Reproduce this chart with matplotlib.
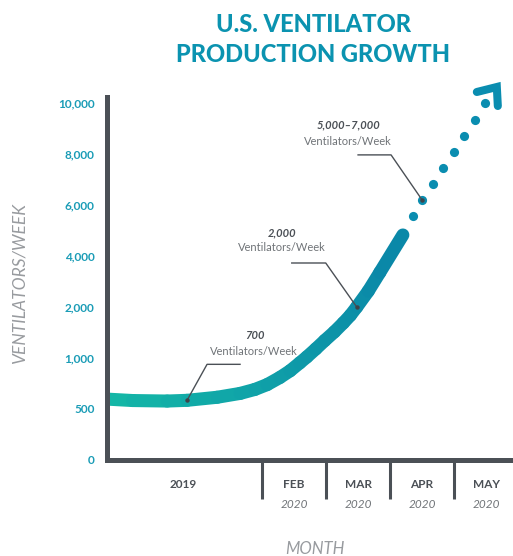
import numpy as np
import matplotlib
matplotlib.use("Agg")
import matplotlib.pyplot as plt
import matplotlib.transforms as mtransforms
from matplotlib.collections import LineCollection
from matplotlib.colors import LinearSegmentedColormap
from matplotlib.lines import Line2D

# ---------------- data ----------------
y_tick_values = [0, 500, 1000, 2000, 4000, 6000, 8000, 10000]
y_tick_labels = ["0", "500", "1,000", "2,000", "4,000", "6,000", "8,000", "10,000"]

month_boundaries = [0, 1, 2, 3]          # Feb 1, Mar 1, Apr 1, May 1 (2020)
period_labels = ["2019", "FEB", "MAR", "APR", "MAY"]
period_years = ["", "2020", "2020", "2020", "2020"]
period_centers = [-1.23, 0.5, 1.5, 2.5, 3.5]

actual_month = [-2.45, -2.02, -1.48, -1.17, -0.70, -0.34, -0.11, 0.08, 0.28, 0.44, 0.59,
                0.70, 0.84, 0.98, 1.13, 1.27, 1.38, 1.48, 1.66, 1.84, 2.20]
actual_value = [598, 583, 578, 585, 615, 653, 692, 739, 809, 875, 952,
                1020, 1178, 1343, 1512, 1688, 1837, 2000, 2624, 3353, 4824]

projected_month = [2.36, 2.50, 2.67, 2.83, 3.00, 3.16, 3.33, 3.48]
projected_value = [5570, 6200, 6820, 7450, 8080, 8710, 9330, 10000]

callout_month = [-1.17, 1.48, 2.50]
callout_value = [585, 2000, 6200]
callout_numbers = ["700", "2,000", "5,000\u20137,000"]
callout_unit = "Ventilators/Week"

# ---------------- style ----------------
W, H, DPI = 513, 556, 100
AXIS_COLOR = "#4b5056"
TICK_COLOR = "#1a9cb6"
TITLE_COLOR = "#0b93b0"
DOT_COLOR = "#0a8db0"
GRAY_TEXT = "#989b9f"
UNIT_TEXT = "#707478"
FONT = ["Lato", "DejaVu Sans"]

# equal spacing between the listed tick values
tv = np.array(y_tick_values, float)
ti = np.arange(len(tv), dtype=float)


def fwd(v):
    v = np.asarray(v, float)
    out = np.interp(v, tv, ti)
    out = np.where(v > tv[-1], ti[-1] + (v - tv[-1]) / (tv[-1] - tv[-2]), out)
    out = np.where(v < tv[0], (v - tv[0]) / (tv[1] - tv[0]), out)
    return out


def inv(i):
    i = np.asarray(i, float)
    out = np.interp(i, ti, tv)
    out = np.where(i > ti[-1], tv[-1] + (i - ti[-1]) * (tv[-1] - tv[-2]), out)
    out = np.where(i < ti[0], tv[0] + i * (tv[1] - tv[0]), out)
    return out


fig = plt.figure(figsize=(W / DPI, H / DPI), dpi=DPI)
ax = fig.add_axes([107 / W, (H - 460) / H, (W - 107) / W, (460 - 97) / H])
ax.set_yscale("function", functions=(fwd, inv))
ax.set_xlim(-2.42, 3.92)
ax.set_ylim(0, 10235)

for s in ("top", "right"):
    ax.spines[s].set_visible(False)
for s in ("left", "bottom"):
    ax.spines[s].set_color(AXIS_COLOR)
    ax.spines[s].set_linewidth(3.6)
    ax.spines[s].set_zorder(5)

ax.set_yticks(y_tick_values)
ax.set_yticklabels(y_tick_labels)
ax.yaxis.set_minor_locator(matplotlib.ticker.NullLocator())
ax.tick_params(axis="y", length=0, pad=9, labelcolor=TICK_COLOR)
for lab in ax.get_yticklabels():
    lab.set_fontfamily(FONT)
    lab.set_fontweight("bold")
    lab.set_fontsize(8.5)

ax.set_xticks(month_boundaries)
ax.tick_params(axis="x", length=28, width=2.2, color=AXIS_COLOR, labelbottom=False)

# period labels
for xc, lab, yr in zip(period_centers, period_labels, period_years):
    ax.annotate(lab, xy=(xc, 0), xycoords=("data", "axes fraction"),
                xytext=(0, -24), textcoords="offset pixels",
                ha="center", va="center", fontsize=8.5, fontweight="bold",
                family=FONT, color=AXIS_COLOR)
    if yr:
        ax.annotate(yr, xy=(xc, 0), xycoords=("data", "axes fraction"),
                    xytext=(0, -44), textcoords="offset pixels",
                    ha="center", va="center", fontsize=8.5, fontstyle="italic",
                    fontweight="normal", family=FONT, color=UNIT_TEXT)

# gradient actual line
cmap = LinearSegmentedColormap.from_list("grad", ["#14b8a6", "#10a3a8", "#0a86a8"])
pts = np.column_stack([actual_month, actual_value])
segs = np.stack([pts[:-1], pts[1:]], axis=1)
mids = (np.array(actual_month[:-1]) + np.array(actual_month[1:])) / 2
frac = (mids - actual_month[0]) / (actual_month[-1] - actual_month[0])
lc = LineCollection(segs, colors=cmap(frac), linewidths=9.4,
                    capstyle="round", joinstyle="round", zorder=3)
ax.add_collection(lc)

# projected dots
ax.plot(projected_month, projected_value, "o", color=DOT_COLOR, markersize=6.6,
        markeredgewidth=0, clip_on=False, zorder=3)

# chevron arrow head (offsets in pixels from the last projected dot)
anchor = mtransforms.ScaledTranslation(projected_month[-1], projected_value[-1], ax.transData)
chev = Line2D([-8, 12, 13], [11, 16, -3], color=DOT_COLOR, linewidth=5.8,
              solid_capstyle="round", solid_joinstyle="miter",
              transform=mtransforms.Affine2D() + anchor, clip_on=False, zorder=3)
ax.add_artist(chev)

# callouts: (elbow, end) offsets & text offsets in pixels
leader_elbow = [(20, 36), (-31, 44), (-31, 45)]
leader_end = [(53, 36), (-65, 44), (-64, 45)]
text_num = [(68, 65), (-75, 74), (-74, 75)]
text_unit = [(67, 49), (-75, 59), (-74, 58)]

for i in range(3):
    x, y = callout_month[i], callout_value[i]
    tr = mtransforms.Affine2D() + mtransforms.ScaledTranslation(x, y, ax.transData)
    ex, ey = leader_elbow[i]
    hx, hy = leader_end[i]
    ax.add_artist(Line2D([0, ex, hx], [0, ey, hy], color=AXIS_COLOR, linewidth=1.0,
                         transform=tr, clip_on=False, zorder=6))
    ax.plot([x], [y], "o", color="#3f444a", markersize=3.2, markeredgewidth=0,
            zorder=7, clip_on=False)
    ax.annotate(callout_numbers[i], xy=(x, y), xytext=text_num[i], textcoords="offset pixels",
                ha="center", va="center", fontsize=8, fontweight="bold", fontstyle="italic",
                family=FONT, color=AXIS_COLOR)
    ax.annotate(callout_unit, xy=(x, y), xytext=text_unit[i], textcoords="offset pixels",
                ha="center", va="center", fontsize=8, fontweight="normal",
                family=FONT, color=UNIT_TEXT)

# titles and axis names
fig.text(313 / W, 1 - 24 / H, "U.S. VENTILATOR", ha="center", va="center",
         fontsize=17, fontweight="black", family=FONT, color=TITLE_COLOR)
fig.text(313 / W, 1 - 54 / H, "PRODUCTION GROWTH", ha="center", va="center",
         fontsize=17, fontweight="black", family=FONT, color=TITLE_COLOR)
fig.text(20 / W, 1 - 283 / H, "VENTILATORS/WEEK", rotation=90, ha="center", va="center",
         fontsize=12.5, fontweight="normal", fontstyle="italic", family=FONT, color=GRAY_TEXT)
fig.text(315 / W, 1 - 549 / H, "MONTH", ha="center", va="center",
         fontsize=12, fontweight="normal", fontstyle="italic", family=FONT, color=GRAY_TEXT)

fig.savefig("out.png", dpi=DPI)
